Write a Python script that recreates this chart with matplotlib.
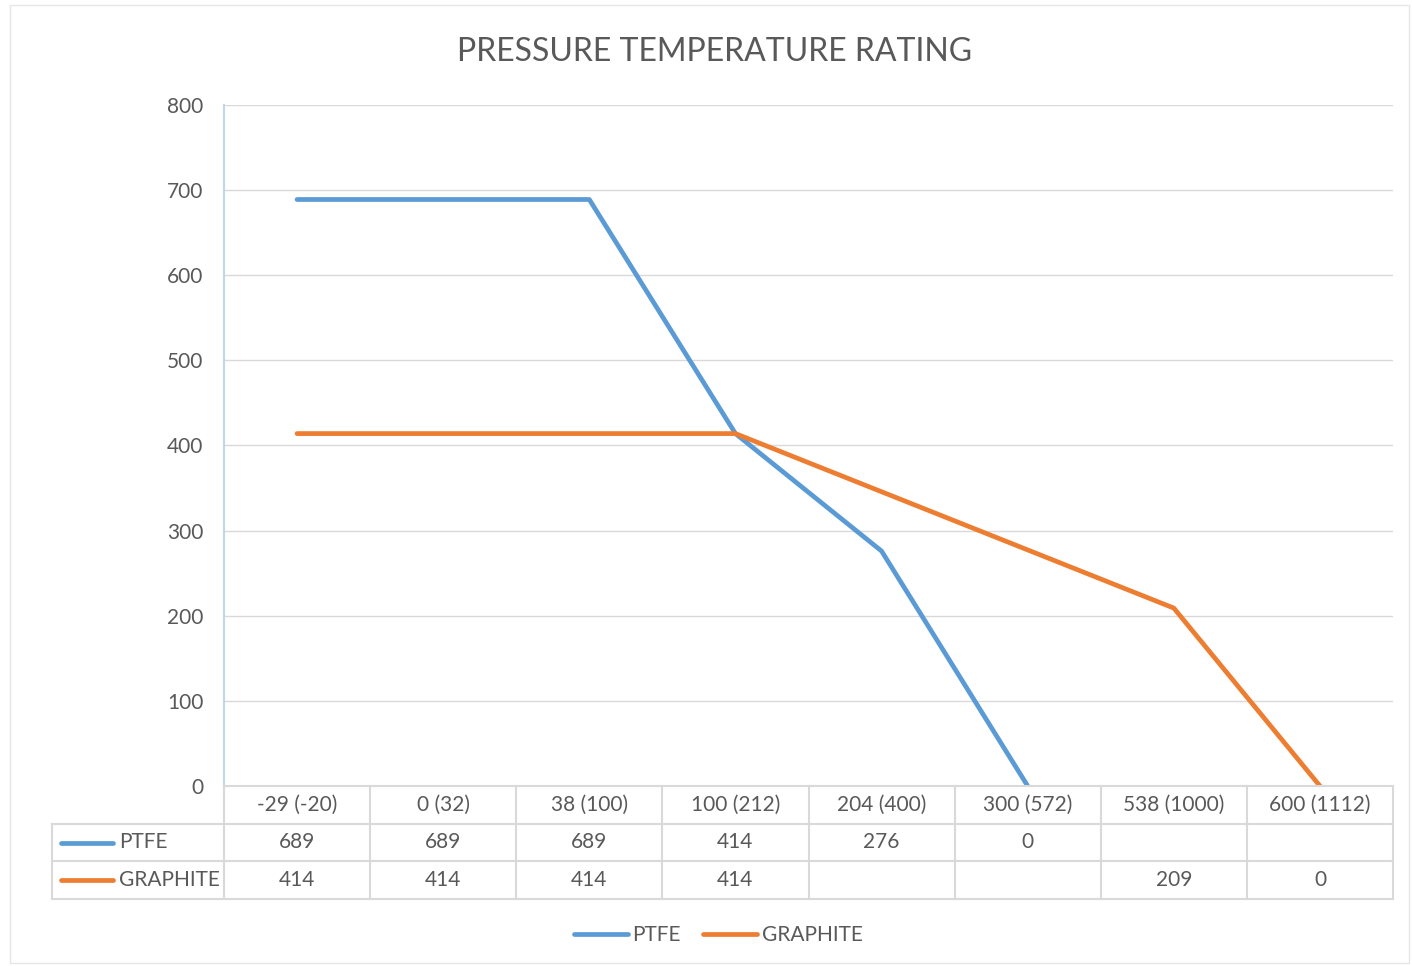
import matplotlib.pyplot as plt
from matplotlib.patches import Rectangle
from matplotlib.lines import Line2D

# dados
categorias = ["-29 (-20)", "0 (32)", "38 (100)", "100 (212)", "204 (400)",
              "300 (572)", "538 (1000)", "600 (1112)"]
ptfe = [689, 689, 689, 414, 276, 0, None, None]
grafite = [414, 414, 414, 414, None, None, 209, 0]
series = ["PTFE", "GRAPHITE"]
yticks = [0, 100, 200, 300, 400, 500, 600, 700, 800]

AZUL = "#5b9bd5"
LARANJA = "#ed7d31"
CINZA_TXT = "#595959"
CINZA_GRADE = "#d9d9d9"

plt.rcParams['font.family'] = ['Lato', 'DejaVu Sans']

W, H = 1412, 966
fig = plt.figure(figsize=(W / 100, H / 100), dpi=100)
fig.patches.append(Rectangle((10 / W, 3 / H), 1399 / W, 958 / H, transform=fig.transFigure,
                             fill=False, edgecolor="#e6e6e6", lw=1))


def px(x0, y0, x1, y1):
    return [x0 / W, 1 - y1 / H, (x1 - x0) / W, (y1 - y0) / H]


ax = fig.add_axes(px(224, 105, 1393, 786))
n = len(categorias)
for nome, vals, cor in ((series[0], ptfe, AZUL), (series[1], grafite, LARANJA)):
    xs = [i for i, v in enumerate(vals) if v is not None]
    ys = [v for v in vals if v is not None]
    ax.plot(xs, ys, color=cor, lw=3.4, solid_capstyle='round', zorder=3)

ax.set_xlim(-0.5, n - 0.5)
ax.set_ylim(0, 800)
ax.set_yticks(yticks)
ax.set_xticks([])
ax.tick_params(axis='y', length=0, pad=15, labelsize=15, labelcolor=CINZA_TXT)
ax.grid(axis='y', color=CINZA_GRADE, lw=1)
ax.set_axisbelow(True)
for s in ("top", "right", "bottom"):
    ax.spines[s].set_visible(False)
ax.spines["left"].set_color("#bdd7ee")
ax.spines["left"].set_linewidth(1.5)

# tabela de dados
lbl_w = (224 - 52) / ((1393 - 224) / n)
tab = fig.add_axes(px(52, 786, 1393, 899))
tab.set_xlim(-0.5 - lbl_w, n - 0.5)
tab.set_ylim(3, 0)
tab.axis("off")
kw = dict(color=CINZA_GRADE, lw=1.5, clip_on=False)
tab.plot([-0.5, n - 0.5], [0, 0], **kw)
for r in (1, 2, 3):
    tab.plot([-0.5 - lbl_w, n - 0.5], [r, r], **kw)
for c in range(n + 1):
    tab.plot([c - 0.5, c - 0.5], [0, 3], **kw)
tab.plot([-0.5 - lbl_w, -0.5 - lbl_w], [1, 3], **kw)

for i, cat in enumerate(categorias):
    tab.text(i, 0.5, cat, ha="center", va="center", fontsize=15, color=CINZA_TXT)
for r, (nome, vals, cor) in enumerate(((series[0], ptfe, AZUL), (series[1], grafite, LARANJA)), start=1):
    x0 = -0.5 - lbl_w
    tab.plot([x0 + 0.06, x0 + 0.42], [r + 0.5, r + 0.5], color=cor, lw=3.4,
             solid_capstyle='round', clip_on=False)
    tab.text(x0 + 0.46, r + 0.5, nome, ha="left", va="center", fontsize=15, color=CINZA_TXT)
    for i, v in enumerate(vals):
        if v is not None:
            tab.text(i, r + 0.5, str(v), ha="center", va="center", fontsize=15, color=CINZA_TXT)

fig.text(715 / W, 1 - 52 / H, "PRESSURE TEMPERATURE RATING", ha="center", va="center",
         fontsize=23, color=CINZA_TXT)

handles = [Line2D([], [], color=AZUL, lw=3.4, solid_capstyle='round'),
           Line2D([], [], color=LARANJA, lw=3.4, solid_capstyle='round')]
fig.legend(handles, series, loc="center", bbox_to_anchor=(718 / W, 1 - 935 / H), ncol=2,
           frameon=False, fontsize=15, labelcolor=CINZA_TXT, handlelength=2.6,
           handletextpad=0.2, columnspacing=1.1)

fig.savefig("out.png", dpi=100)
